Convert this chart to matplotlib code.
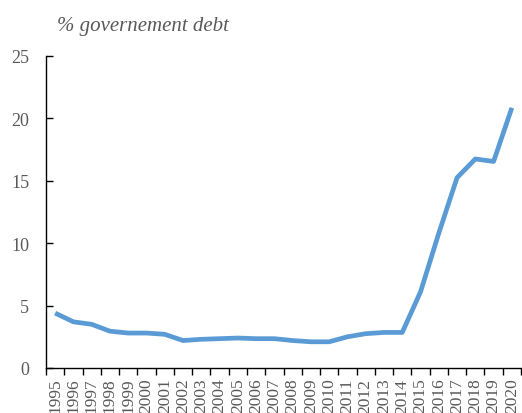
import matplotlib.pyplot as plt
import numpy as np

years = [str(y) for y in range(1995, 2021)]
debt = [4.4, 3.7, 3.5, 2.95, 2.8, 2.8, 2.7, 2.2, 2.3, 2.35, 2.4, 2.35, 2.35,
        2.2, 2.1, 2.1, 2.5, 2.75, 2.85, 2.85, 6.1, 10.8, 15.25, 16.75, 16.55, 20.85]

plt.rcParams['font.family'] = ['Liberation Serif', 'DejaVu Serif']
grey = '#595959'

fig = plt.figure(figsize=(5.22, 4.14), dpi=100)
ax = fig.add_axes([46 / 522, 1 - 369 / 414, 475 / 522, 312 / 414])

x = np.arange(len(years))
ax.plot(x, debt, color='#5B9BD5', lw=3.4, solid_joinstyle='round', solid_capstyle='butt')

ax.set_xlim(-0.5, len(years) - 0.5)
ax.set_ylim(0, 25)
ax.set_yticks([0, 5, 10, 15, 20, 25])
ax.set_xticks(x)
ax.set_xticklabels(years, rotation=90, color=grey, fontsize=12.5)
ax.set_xticks(np.arange(len(years) + 1) - 0.5, minor=True)
ax.tick_params(axis='x', which='major', length=0, pad=7)
ax.tick_params(axis='x', which='minor', length=5, direction='out', width=1)
ax.tick_params(axis='y', direction='in', length=5, width=1, labelsize=13,
               labelcolor=grey, pad=12)

for s in ['top', 'right']:
    ax.spines[s].set_visible(False)
ax.spines['left'].set_linewidth(1)
ax.spines['bottom'].set_linewidth(1)

fig.text(57 / 522, 1 - 31 / 414, '% governement debt', fontsize=15,
         style='italic', color=grey)

fig.savefig('out.png', dpi=100)
